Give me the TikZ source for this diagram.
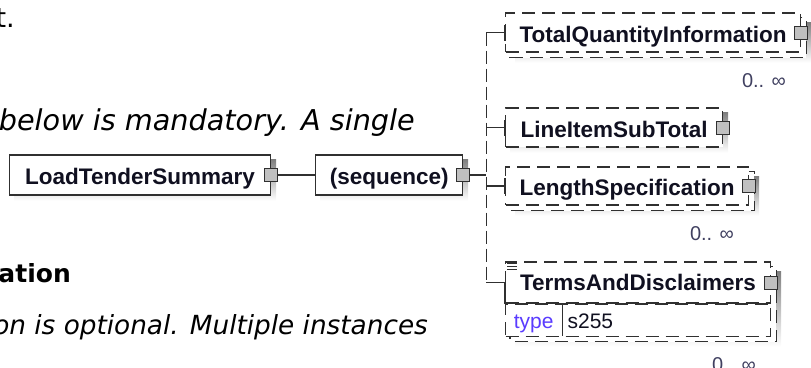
\documentclass[tikz,border=0pt]{standalone}
\usepackage{fontspec}
\setmainfont{DejaVu Sans}
\newfontfamily\xsdfont{Liberation Sans}
\usepackage{tikz}
\usetikzlibrary{positioning,backgrounds}
\definecolor{edge}{HTML}{303030}
\definecolor{shade}{HTML}{C0C0C0}
\definecolor{label}{HTML}{101020}
\definecolor{occurs}{HTML}{404060}
\definecolor{typekey}{HTML}{5A3CFF}

\begin{document}
\begin{tikzpicture}[x=1pt, y=-1pt,
    elem/.style={draw=edge, line width=1.1pt, fill=white, inner sep=0pt, text height=19pt, text depth=0pt, text=label, font={\xsdfont\bfseries\fontsize{22.5pt}{24pt}\selectfont}},
    optelem/.style={elem, dash pattern=on 13pt off 7pt},
    optline/.style={draw=edge, line width=1.1pt, dash pattern=on 13pt off 7pt},
    port/.style={draw=edge, line width=1pt, fill=shade, minimum size=13pt, inner sep=0pt},
    occ/.style={anchor=east, inner sep=0pt, text=occurs, font={\xsdfont\fontsize{20pt}{22pt}\selectfont}},
    link/.style={draw=edge, line width=1.1pt},
    prose/.style={anchor=base east, inner sep=0pt, font={\fontsize{27pt}{30pt}\selectfont}}]
  \useasboundingbox (0,0) rectangle (811,367);
  \node[prose] (intro) at (15,27) {t.};
  \node[prose, font={\itshape\fontsize{28.7pt}{31pt}\selectfont}] (mandatory) at (415,130) {below is mandatory. A single};
  \node[prose, font={\bfseries\fontsize{25pt}{28pt}\selectfont}] (heading) at (71,282) {ation};
  \node[prose, font={\itshape\fontsize{26.3pt}{29pt}\selectfont}] (optional) at (428,334) {on is optional. Multiple instances};

  \node[elem, anchor=west, minimum width=261pt, minimum height=40pt] (root) at (9,175) {LoadTenderSummary};
  \node[port] (rootport) at (root.east) {};
  \node[elem, right=44pt of root, minimum width=147pt, minimum height=40pt] (seq) {(sequence)};
  \node[port] (seqport) at (seq.east) {};
  \coordinate[right=16pt of seqport] (fork);

  \node[optelem, anchor=west, minimum width=295pt, minimum height=39pt] (totalqty) at (505,32.5) {TotalQuantityInformation};
  \node[optelem, anchor=west, minimum width=217pt, minimum height=39pt] (subtotal) at (505,127.5) {LineItemSubTotal};
  \node[optelem, anchor=west, minimum width=243pt, minimum height=38pt] (lengthspec) at (505,186) {LengthSpecification};
  \node[optelem, anchor=west, minimum width=265pt, minimum height=41pt, text height=15pt] (terms) at (505,282.5) {TermsAndDisclaimers};
  \node[optelem, anchor=north, minimum width=265pt, minimum height=32pt] (termsrow) at (terms.south) {};
  \node[anchor=west, minimum width=57pt, minimum height=32pt, inner sep=0pt, text height=16pt, text depth=0pt, text=typekey, font={\xsdfont\fontsize{21pt}{23pt}\selectfont}] (termskey) at (termsrow.west) {type};
  \node[anchor=west, inner xsep=5pt, inner ysep=0pt, text height=16pt, text depth=0pt, text=label, font={\xsdfont\fontsize{21pt}{23pt}\selectfont}] (termsval) at (termskey.east) {s255};
  \draw[link] (terms.south west) -- (terms.south east);
  \draw[link] (termskey.north east) -- (termskey.south east);
  \foreach \dy in {1.5,4.5,7.5}
    \draw[draw=edge, line width=0.9pt] ([shift={(2pt,-\dy pt)}]terms.north west) -- ++(10pt,0pt);

  \foreach \el in {totalqty, subtotal, lengthspec, terms}
    \node[port] (\el-port) at (\el.east) {};

  \begin{scope}[on background layer]
    \foreach \el in {root, seq, subtotal}
      \fill[shade] ([shift={(5pt,-5pt)}]\el.north west) rectangle ([shift={(5pt,-5pt)}]\el.south east);
    \foreach \el/\low in {totalqty/totalqty, lengthspec/lengthspec, terms/termsrow} {
      \fill[shade] ([shift={(10pt,-10pt)}]\el.north west) rectangle ([shift={(10pt,-10pt)}]\low.south east);
      \draw[optline, fill=white] ([shift={(5pt,-5pt)}]\el.north west) rectangle ([shift={(5pt,-5pt)}]\low.south east);
    }
  \end{scope}

  \draw[link] (rootport) -- (seq);
  \draw[link] (seqport) -- (fork);
  \draw[link, dash pattern=on 13pt off 5pt] (fork |- totalqty.west) -- (fork |- terms.west);
  \foreach \el in {totalqty, subtotal, lengthspec, terms}
    \draw[link] (fork |- \el.west) -- (\el.west);
  \foreach \el in {totalqty, subtotal, lengthspec}
    \draw[link] ([yshift=8pt]\el.west) -- ([yshift=-8pt]\el.west);
  \draw[link] (terms.west) -- (terms.south west);

  \foreach \el/\low in {totalqty/totalqty, lengthspec/lengthspec, terms/termsrow}
    \node[occ] (\el-occ) at ([shift={(-15pt,-28pt)}]\low.south east) {0.. ∞};
\end{tikzpicture}
\end{document}
